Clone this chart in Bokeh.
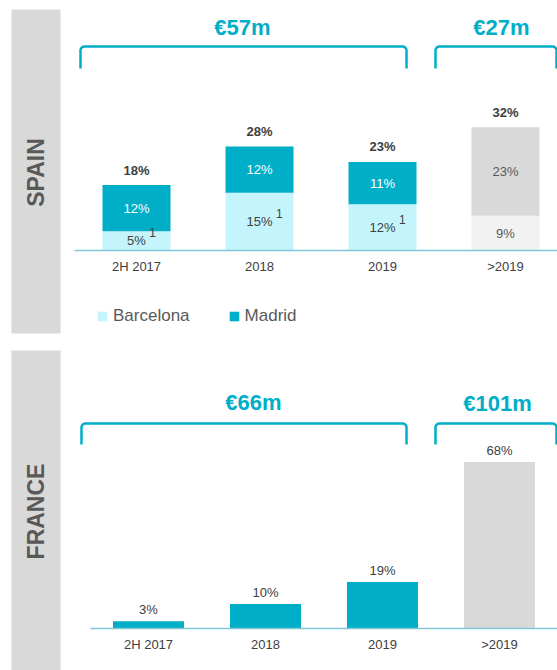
import math

from bokeh.core.properties import value
from bokeh.embed import file_html
from bokeh.layouts import column
from bokeh.models import (ColumnDataSource, FixedTicker, Legend, LegendItem,
                          LinearAxis, Range1d)
from bokeh.plotting import figure
from bokeh.resources import INLINE

# ---- data -------------------------------------------------------------
periods = ["2H 2017", "2018", "2019", ">2019"]

# Spain: committed periods split by city, later period split in two parts
spain_barcelona = [5, 15, 12]
spain_madrid = [12, 12, 11]
spain_later_lower = 9
spain_later_upper = 23
spain_totals = [18, 28, 23, 32]
spain_brackets = ["€57m", "€27m"]

# France: single series
france_values = [3, 10, 19, 68]
france_brackets = ["€66m", "€101m"]

# ---- style ------------------------------------------------------------
TEAL = "#00aec7"
LIGHT = "#c4f5fc"
GREY = "#d9d9d9"
PALE = "#f2f2f2"
TEXT = "#404040"
SIDE_TEXT = "#595959"
AXIS_LINE = "#7fc6d6"
FONT = "Liberation Sans"
W = 557


class Panel:
    """A figure whose frame fills the canvas; px helpers place decorations."""

    def __init__(self, height, x0_px, unit_px, base_px, scale_px):
        self.h = height
        self.x0, self.unit = x0_px, unit_px
        self.base, self.scale = base_px, scale_px
        self.p = figure(width=W, height=height, output_backend="svg",
                        toolbar_location=None, min_border=0,
                        x_range=Range1d(self.tx(0), self.tx(W)),
                        y_range=Range1d(self.ty(height), self.ty(0)))
        p = self.p
        p.xaxis.visible = False
        p.yaxis.visible = False
        p.grid.visible = False
        p.outline_line_color = None
        p.background_fill_color = "white"
        p.border_fill_color = "white"

    def tx(self, px):
        return (px - self.x0) / self.unit

    def ty(self, py):
        return (self.base - py) / self.scale

    def sidebar(self, top_px, bottom_px, label):
        p = self.p
        p.quad(left=self.tx(11), right=self.tx(60), top=self.ty(top_px),
               bottom=self.ty(bottom_px), fill_color=GREY, line_color=None)
        p.text(x=[self.tx(35)], y=[self.ty((top_px + bottom_px) / 2 + 1)],
               text=[label], angle=math.pi / 2, text_align="center",
               text_baseline="middle", text_font=value(FONT),
               text_font_style="bold", text_font_size="23px",
               text_color=SIDE_TEXT)

    def brace(self, l, r, top, bot, rad=4):
        pts = [(l, bot), (l, top + rad)]
        for i in range(1, 9):
            a = math.pi / 2 * i / 8
            pts.append((l + rad - rad * math.cos(a), top + rad - rad * math.sin(a)))
        pts.append((r - rad, top))
        for i in range(1, 9):
            a = math.pi / 2 * i / 8
            pts.append((r - rad + rad * math.sin(a), top + rad - rad * math.cos(a)))
        pts.append((r, bot))
        self.p.line([self.tx(x) for x, _ in pts], [self.ty(y) for _, y in pts],
                    line_color=TEAL, line_width=2.5, line_join="round")

    def bracket_labels(self, texts, xs_px, ys_px):
        self.p.text(x=[self.tx(x) for x in xs_px], y=[self.ty(y) for y in ys_px],
                    text=texts, text_align="center", text_baseline="middle",
                    text_font=value(FONT), text_font_style="bold",
                    text_font_size="22px", text_color=TEAL)

    def x_axis(self, left_px):
        ax = LinearAxis(fixed_location=0,
                        ticker=FixedTicker(ticks=list(range(len(periods)))),
                        major_label_overrides={i: s for i, s in enumerate(periods)},
                        bounds=(self.tx(left_px), self.tx(W)))
        ax.axis_line_color = AXIS_LINE
        ax.axis_line_width = 1.5
        ax.major_tick_line_color = None
        ax.minor_tick_line_color = None
        ax.major_tick_out = 0
        ax.major_tick_in = 0
        ax.minor_tick_out = 0
        ax.major_label_standoff = 8
        ax.major_label_text_font = FONT
        ax.major_label_text_font_size = "13px"
        ax.major_label_text_color = TEXT
        self.p.add_layout(ax, "below")


label_kw = dict(text_align="center", text_baseline="middle",
                text_font=value(FONT), text_font_size="13px")

# ---- Spain ------------------------------------------------------------
sp = Panel(height=340, x0_px=136, unit_px=123, base_px=250, scale_px=3.85)
p1 = sp.p
sp.sidebar(9, 333, "SPAIN")
sp.brace(80, 406, 46, 68)
sp.brace(435, 556, 46, 68)
sp.bracket_labels(spain_brackets, [242, 501], [27, 27])

n_city = len(spain_barcelona)
city_x = list(range(n_city))
barc_top = spain_barcelona
madr_top = [b + m for b, m in zip(spain_barcelona, spain_madrid)]
src_city = ColumnDataSource(dict(
    x=city_x, barc=barc_top, madr=madr_top,
    barc_mid=[b / 2 for b in spain_barcelona],
    madr_mid=[b + m / 2 for b, m in zip(spain_barcelona, spain_madrid)],
    barc_lbl=[f"{b}%" for b in spain_barcelona],
    madr_lbl=[f"{m}%" for m in spain_madrid],
    note_off=[3.6 * len(f"{b}%") + 9 for b in spain_barcelona],
))
bw_top = 68 / 123
r_barc = p1.vbar(x="x", width=bw_top, bottom=0, top="barc", source=src_city,
                 fill_color=LIGHT, line_color=None)
r_madr = p1.vbar(x="x", width=bw_top, bottom="barc", top="madr",
                 source=src_city, fill_color=TEAL, line_color=None)

later_x = len(periods) - 1
later_total = spain_later_lower + spain_later_upper
p1.vbar(x=[later_x], width=bw_top, bottom=[0], top=[spain_later_lower],
        fill_color=PALE, line_color=None)
p1.vbar(x=[later_x], width=bw_top, bottom=[spain_later_lower],
        top=[later_total], fill_color=GREY, line_color=None)

# segment labels
p1.text(x="x", y="barc_mid", text="barc_lbl", source=src_city,
        text_color=TEXT, **label_kw)
p1.text(x="x", y="madr_mid", text="madr_lbl", source=src_city,
        text_color="white", **label_kw)
p1.text(x="x", y="barc_mid", text=value("1"), x_offset="note_off",
        y_offset=-8, source=src_city, text_align="center",
        text_baseline="middle", text_font=value(FONT),
        text_font_size="12px", text_color=TEXT)
p1.text(x=[later_x, later_x],
        y=[spain_later_lower / 2, spain_later_lower + spain_later_upper / 2],
        text=[f"{spain_later_lower}%", f"{spain_later_upper}%"],
        text_color=SIDE_TEXT, **label_kw)

# totals above stacks
stack_tops = madr_top + [later_total]
p1.text(x=list(range(len(periods))), y=stack_tops,
        text=[f"{t}%" for t in spain_totals], y_offset=-15,
        text_align="center", text_baseline="middle", text_font=value(FONT),
        text_font_style="bold", text_font_size="13px", text_color=TEXT)

sp.x_axis(74)

legend = Legend(items=[LegendItem(label="Barcelona", renderers=[r_barc]),
                       LegendItem(label="Madrid", renderers=[r_madr])],
                orientation="horizontal", location=(96, 14),
                glyph_width=12, glyph_height=12, label_standoff=5, spacing=38,
                padding=0, margin=0, border_line_color=None,
                background_fill_alpha=0, label_text_font=FONT,
                label_text_font_size="17px", label_text_color=SIDE_TEXT)
p1.add_layout(legend)

# ---- France -----------------------------------------------------------
fr = Panel(height=330, x0_px=148, unit_px=117, base_px=288, scale_px=2.45)
p2 = fr.p
fr.sidebar(10, 330, "FRANCE")
fr.brace(81, 406, 83, 104)
fr.brace(435, 556, 83, 104)
fr.bracket_labels(france_brackets, [253, 497], [62, 63])

fr_x = list(range(len(france_values)))
fr_colors = [TEAL] * (len(france_values) - 1) + [GREY]
src_fr = ColumnDataSource(dict(x=fr_x, v=france_values, c=fr_colors,
                               lbl=[f"{v}%" for v in france_values]))
p2.vbar(x="x", width=71 / 117, bottom=0, top="v", fill_color="c",
        line_color=None, source=src_fr)
p2.text(x="x", y="v", text="lbl", source=src_fr, y_offset=-4,
        text_align="center", text_baseline="bottom", text_font=value(FONT),
        text_font_size="13px", text_color=TEXT)
fr.x_axis(90)

layout = column(p1, p2, spacing=0)
open("out.html", "w").write(file_html(layout, INLINE))
